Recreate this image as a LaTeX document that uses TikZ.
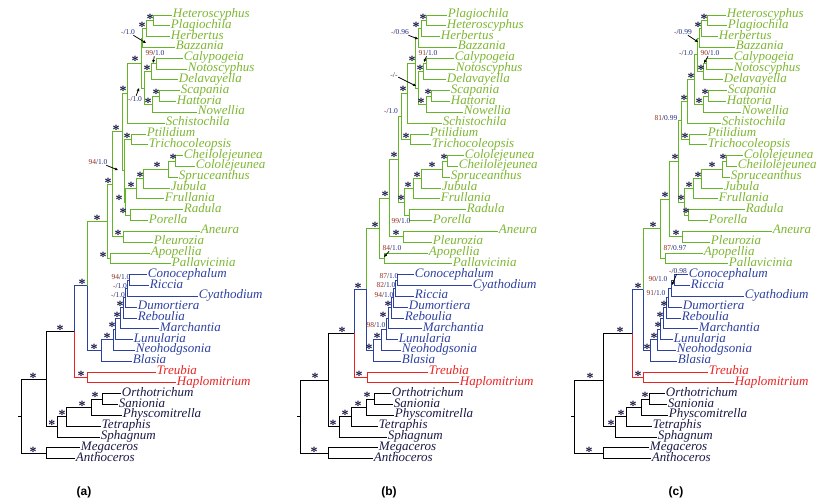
\documentclass[tikz,border=0pt]{standalone}
\usepackage{fontspec}
\setmainfont{Liberation Serif}
\setsansfont{Liberation Sans}
\usetikzlibrary{arrows.meta,calc,positioning}

\definecolor{leafy}{RGB}{100,182,40}
\definecolor{leafytext}{RGB}{125,182,50}
\definecolor{march}{RGB}{45,65,160}
\definecolor{haplo}{RGB}{235,35,35}
\definecolor{ink}{RGB}{25,25,70}
\definecolor{bsred}{RGB}{150,45,25}
\definecolor{ppblue}{RGB}{35,45,130}

\tikzset{taxon/.style={anchor=west,inner xsep=0.5pt,inner ysep=0pt,text height=.5em,text depth=0pt,font=\fontsize{13}{13}\selectfont\itshape}}
\tikzset{gtx/.style={taxon,text=leafytext}}
\tikzset{btx/.style={taxon,text=march}}
\tikzset{rtx/.style={taxon,text=haplo}}
\tikzset{ktx/.style={taxon,text=ink}}
\tikzset{ast/.style={anchor=base,inner sep=0pt,yshift=-2.8pt,text=ink,font=\fontsize{14}{14}\selectfont\bfseries}}
\tikzset{sup/.style={inner sep=0.3pt,text=ink,font=\fontsize{7.5}{7.5}\selectfont}}
\tikzset{pointer/.style={-{Triangle[length=3pt,width=2.6pt]},line width=0.75pt,black}}
\tikzset{panel/.style={font=\sffamily\bfseries\fontsize{12}{12}\selectfont}}

\newcommand{\sv}[2]{\textcolor{bsred}{#1}/\textcolor{ppblue}{#2}}
% clade: name, x, child, child, colour to child one, colour to child two
\newcommand{\clade}[6]{%
  \path ($(#3)!.5!(#4)$) coordinate (#1-m);
  \coordinate (#1) at (#2,0 |- #1-m);
  \draw[#5] (#1) |- (#3);
  \draw[#6] (#1) |- (#4);
}

\begin{document}
\begin{tikzpicture}[x=1pt,y=-1pt,line width=0.9pt]
\useasboundingbox (0,0) rectangle (820,503);

% ---------- (a) ----------
\foreach \n/\x/\r/\lab in {het/172/0/Heteroscyphus, plag/170/1/Plagiochila, herb/170/2/Herbertus,
  baz/175/3/Bazzania, caly/183/4/Calypogeia, noto/187/5/Notoscyphus, delav/178/6/Delavayella,
  scap/180/7/Scapania, hatt/176/8/Hattoria, now/197/9/Nowellia, schis/165/10/Schistochila,
  ptil/146/11/Ptilidium, trich/148/12/Trichocoleopsis, cheil/183/13/Cheilolejeunea,
  colo/195/14/Cololejeunea, spruc/178/15/Spruceanthus, jub/170/16/Jubula, frul/164/17/Frullania,
  rad/183/18/Radula, por/148/19/Porella, aneu/200/20/Aneura, pleu/153/21/Pleurozia,
  apop/150/22/Apopellia, pall/171/23/Pallavicinia}
  \node[gtx] (a-\n) at (\x,{15+10.82*\r}) {\lab};
\foreach \n/\x/\r/\lab in {con/147/24/Conocephalum, ric/149/25/Riccia, cya/198/26/Cyathodium,
  dum/137/27/Dumortiera, reb/137/28/Reboulia, mar/159/29/Marchantia, lun/133/30/Lunularia,
  neo/135/31/Neohodgsonia, bla/132/32/Blasia}
  \node[btx] (a-\n) at (\x,{15+10.82*\r}) {\lab};
\foreach \n/\x/\r/\lab in {treu/156/33/Treubia, hap/176/34/Haplomitrium}
  \node[rtx] (a-\n) at (\x,{15+10.82*\r}) {\lab};
\foreach \n/\x/\r/\lab in {orth/121/35/Orthotrichum, san/118/36/Sanionia, phys/122/37/Physcomitrella,
  tetr/101/38/Tetraphis, sphag/100/39/Sphagnum, mega/80/40/Megaceros, anth/75/41/Anthoceros}
  \node[ktx] (a-\n) at (\x,{15+10.82*\r}) {\lab};

\foreach \n/\x/\ca/\cb in {hp/153/het/plag, hph/146/hp/herb, hphb/142/hph/baz, cn/156/caly/noto,
  cnd/151/cn/delav, sh/159/scap/hatt, shn/152/sh/now, csn/144/cnd/shn, l1/141/hphb/csn,
  l2/127/l1/schis, pt/131/ptil/trich, cc/175/cheil/colo, ccs/168/cc/spruc, ccsj/143/ccs/jub,
  ccsjf/136/ccsj/frul, rp/130/rad/por, porl/125/ccsjf/rp, ptpo/124/pt/porl, jd/122/l2/ptpo,
  ap/123/aneu/pleu, jdm/112/jd/ap, pell/110/apop/pall, jgp/107/jdm/pell}
  {\clade{a-\n}{\x}{a-\ca}{a-\cb}{leafy}{leafy}}
\foreach \n/\x/\ca/\cb in {m8/129.5/con/ric, m7/127.5/m8/cya, m6/125.5/m7/dum, m5/123/m6/reb,
  m4/120/m5/mar, m3/115/m4/lun, m2/113/m3/neo, m1/101/m2/bla}
  {\clade{a-\n}{\x}{a-\ca}{a-\cb}{march}{march}}
\clade{a-hr}{87}{a-treu}{a-hap}{haplo}{haplo}
\foreach \n/\x/\ca/\cb in {os/102/orth/san, osp/91/os/phys, ospt/66/osp/tetr, moss/57/ospt/sphag,
  horn/46/mega/anth}
  {\clade{a-\n}{\x}{a-\ca}{a-\cb}{black}{black}}
\clade{a-jm}{87}{a-jgp}{a-m1}{leafy}{march}
\clade{a-liv}{74}{a-jm}{a-hr}{march}{haplo}
\clade{a-tr}{46}{a-liv}{a-moss}{black}{black}
\clade{a-root}{21}{a-tr}{a-horn}{black}{black}
\coordinate (a-stub) at (18,0 |- a-root);
\draw (a-stub) -- (a-root);

\foreach \n/\x in {hp/150, hph/142, cnd/147, sh/156, shn/148, l1/135, l2/123, jd/116, pt/127,
  cc/173, ccs/157, ccsj/140, ccsjf/131, porl/119, rp/123, ap/118, jdm/108, pell/103, jgp/97,
  jm/82, m1/94, m2/107, m3/112, m4/117, m5/120, hr/81, liv/60, os/95, osp/82, ospt/62,
  moss/52, tr/33, horn/33}
  \node[ast] (a-\n-s) at (\x,0 |- a-\n) {*};

\node[sup] (a-v1) at (128,32) {\sv{-}{1.0}};
\node[sup] (a-v2) at (155,53) {\sv{99}{1.0}};
\node[sup] (a-v3) at (135,99) {\sv{-}{1.0}};
\node[sup] (a-v4) at (98,162) {\sv{94}{1.0}};
\node[sup] (a-v5) at (121,277) {\sv{94}{1.0}};
\node[sup] (a-v6) at (120,286) {\sv{-}{1.0}};
\node[sup] (a-v7) at (118,295) {\sv{-}{1.0}};
\coordinate (a-v1t) at (146,43);
\coordinate (a-v2t) at (153,63);
\coordinate (a-v3t) at (139,88);
\coordinate (a-v4t) at (118,170);
\draw[pointer] (a-v1) -- (a-v1t);
\draw[pointer] (a-v2) -- (a-v2t);
\draw[pointer] (a-v3) -- (a-v3t);
\draw[pointer] (a-v4) -- (a-v4t);

\node[panel] (a-name) at (84,492) {(a)};

% ---------- (b) ----------
\foreach \n/\x/\r/\lab in {plag/447/0/Plagiochila, het/446/1/Heteroscyphus, herb/440/2/Herbertus,
  baz/457/3/Bazzania, caly/454/4/Calypogeia, noto/455/5/Notoscyphus, delav/446/6/Delavayella,
  scap/450/7/Scapania, hatt/450/8/Hattoria, now/463/9/Nowellia, schis/442/10/Schistochila,
  ptil/429/11/Ptilidium, trich/431/12/Trichocoleopsis, colo/464/13/Cololejeunea,
  cheil/458/14/Cheilolejeunea, spruc/450/15/Spruceanthus, jub/441/16/Jubula, frul/440/17/Frullania,
  rad/466/18/Radula, por/432/19/Porella, aneu/498/20/Aneura, pleu/432/21/Pleurozia,
  apop/428/22/Apopellia, pall/452/23/Pallavicinia}
  \node[gtx] (b-\n) at (\x,{15+10.82*\r}) {\lab};
\foreach \n/\x/\r/\lab in {con/414/24/Conocephalum, cya/472/25/Cyathodium, ric/414/26/Riccia,
  dum/408/27/Dumortiera, reb/404/28/Reboulia, mar/422/29/Marchantia, lun/398/30/Lunularia,
  neo/401/31/Neohodgsonia, bla/401/32/Blasia}
  \node[btx] (b-\n) at (\x,{15+10.82*\r}) {\lab};
\foreach \n/\x/\r/\lab in {treu/428/33/Treubia, hap/459/34/Haplomitrium}
  \node[rtx] (b-\n) at (\x,{15+10.82*\r}) {\lab};
\foreach \n/\x/\r/\lab in {orth/391/35/Orthotrichum, san/393/36/Sanionia, phys/394/37/Physcomitrella,
  tetr/378/38/Tetraphis, sphag/387/39/Sphagnum, mega/378/40/Megaceros, anth/373/41/Anthoceros}
  \node[ktx] (b-\n) at (\x,{15+10.82*\r}) {\lab};

\foreach \n/\x/\ca/\cb in {hp/426/plag/het, hph/421/hp/herb, hphb/418/hph/baz, cn/426/caly/noto,
  cnd/423/cn/delav, sh/431/scap/hatt, shn/426/sh/now, csn/418/cnd/shn, l1/415.5/hphb/csn,
  l2/407/l1/schis, pt/410/ptil/trich, x/401/l2/pt, cc/447/colo/cheil, ccs/442/cc/spruc,
  ccsj/421/ccs/jub, ccsjf/413/ccsj/frul, rp/409/rad/por, porl/404/ccsjf/rp, jd/398/x/porl,
  ap/403/aneu/pleu, jdm/389/jd/ap, pell/384/apop/pall, jgp/379/jdm/pell}
  {\clade{b-\n}{\x}{b-\ca}{b-\cb}{leafy}{leafy}}
\foreach \n/\x/\ca/\cb in {m8/397/con/cya, m7/395/m8/ric, m6/393/m7/dum, m5/391/m6/reb,
  m4/388/m5/mar, m3/386/m4/lun, m2/381/m3/neo, m1/373/m2/bla}
  {\clade{b-\n}{\x}{b-\ca}{b-\cb}{march}{march}}
\clade{b-hr}{367}{b-treu}{b-hap}{haplo}{haplo}
\foreach \n/\x/\ca/\cb in {os/374/orth/san, osp/366/os/phys, ospt/351/osp/tetr, moss/339/ospt/sphag,
  horn/328/mega/anth}
  {\clade{b-\n}{\x}{b-\ca}{b-\cb}{black}{black}}
\clade{b-jm}{366}{b-jgp}{b-m1}{leafy}{march}
\clade{b-liv}{354}{b-jm}{b-hr}{march}{haplo}
\clade{b-tr}{328}{b-liv}{b-moss}{black}{black}
\clade{b-root}{300}{b-tr}{b-horn}{black}{black}
\coordinate (b-stub) at (297,0 |- b-root);
\draw (b-stub) -- (b-root);

\foreach \n/\x in {hp/423, hph/416, cnd/420, sh/428, shn/421, l1/412, l2/403, pt/406, jd/394,
  cc/444, ccs/432, ccsj/417, ccsjf/408, porl/401, ap/396, jdm/385, jgp/375, jm/358, m1/369,
  m2/377, m4/383, m5/388, hr/359, liv/342, os/367, osp/358, ospt/345, moss/333, tr/315, horn/314}
  \node[ast] (b-\n-s) at (\x,0 |- b-\n) {*};

\node[sup] (b-v1) at (400,32) {\sv{-}{0.96}};
\node[sup] (b-v2) at (428,53) {\sv{91}{1.0}};
\node[sup] (b-v3) at (394,75) {\sv{-}{-}};
\node[sup] (b-v4) at (391,111) {\sv{-}{1.0}};
\node[sup] (b-v5) at (401,221) {\sv{99}{1.0}};
\node[sup] (b-v6) at (392,248) {\sv{84}{1.0}};
\node[sup] (b-v7) at (389,276) {\sv{87}{1.0}};
\node[sup] (b-v8) at (386,285) {\sv{82}{1.0}};
\node[sup] (b-v9) at (384,295) {\sv{94}{1.0}};
\node[sup] (b-v10) at (376,325) {\sv{98}{1.0}};
\coordinate (b-v1t) at (418,39);
\coordinate (b-v2t) at (424,62);
\coordinate (b-v3t) at (416,86);
\coordinate (b-v6t) at (384,257);
\draw[pointer] (b-v1) -- (b-v1t);
\draw[pointer] (b-v2) -- (b-v2t);
\draw[pointer] (b-v3) -- (b-v3t);
\draw[pointer] (b-v6) -- (b-v6t);

\node[panel] (b-name) at (389,492) {(b)};

% ---------- (c) ----------
\foreach \n/\x/\r/\lab in {het/726/0/Heteroscyphus, plag/727/1/Plagiochila, herb/718/2/Herbertus,
  baz/735/3/Bazzania, caly/733/4/Calypogeia, noto/733/5/Notoscyphus, delav/723/6/Delavayella,
  scap/727/7/Scapania, hatt/726/8/Hattoria, now/741/9/Nowellia, schis/721/10/Schistochila,
  ptil/707/11/Ptilidium, trich/707/12/Trichocoleopsis, colo/743/13/Cololejeunea,
  cheil/737/14/Cheilolejeunea, spruc/730/15/Spruceanthus, jub/723/16/Jubula, frul/718/17/Frullania,
  rad/745/18/Radula, por/708/19/Porella, aneu/772/20/Aneura, pleu/710/21/Pleurozia,
  apop/703/22/Apopellia, pall/728/23/Pallavicinia}
  \node[gtx] (c-\n) at (\x,{15+10.82*\r}) {\lab};
\foreach \n/\x/\r/\lab in {con/688/24/Conocephalum, ric/690/25/Riccia, cya/744/26/Cyathodium,
  dum/682/27/Dumortiera, reb/681/28/Reboulia, mar/698/29/Marchantia, lun/673/30/Lunularia,
  neo/676/31/Neohodgsonia, bla/677/32/Blasia}
  \node[btx] (c-\n) at (\x,{15+10.82*\r}) {\lab};
\foreach \n/\x/\r/\lab in {treu/708/33/Treubia, hap/734/34/Haplomitrium}
  \node[rtx] (c-\n) at (\x,{15+10.82*\r}) {\lab};
\foreach \n/\x/\r/\lab in {orth/665/35/Orthotrichum, san/667/36/Sanionia, phys/668/37/Physcomitrella,
  tetr/652/38/Tetraphis, sphag/657/39/Sphagnum, mega/649/40/Megaceros, anth/651/41/Anthoceros}
  \node[ktx] (c-\n) at (\x,{15+10.82*\r}) {\lab};

\foreach \n/\x/\ca/\cb in {hp/707/het/plag, hph/701/hp/herb, hphb/699/hph/baz, cn/706/caly/noto,
  cnd/703/cn/delav, sh/708/scap/hatt, shn/703/sh/now, aa/697/hphb/cnd, l1/694/aa/shn,
  l2/687/l1/schis, pt/689/ptil/trich, x/681/l2/pt, cc/726/colo/cheil, ccs/722/cc/spruc,
  ccsj/701/ccs/jub, ccsjf/693/ccsj/frul, rp/688/rad/por, porl/684/ccsjf/rp, jd/678/x/porl,
  ap/682/aneu/pleu, jdm/669/jd/ap, pell/665/apop/pall, jgp/660/jdm/pell}
  {\clade{c-\n}{\x}{c-\ca}{c-\cb}{leafy}{leafy}}
\foreach \n/\x/\ca/\cb in {m8/674/con/ric, m7/671/m8/cya, m6/668/m7/dum, m5/666/m6/reb,
  m4/663/m5/mar, m3/660/m4/lun, m2/657/m3/neo, m1/650/m2/bla}
  {\clade{c-\n}{\x}{c-\ca}{c-\cb}{march}{march}}
\clade{c-hr}{643}{c-treu}{c-hap}{haplo}{haplo}
\foreach \n/\x/\ca/\cb in {os/649/orth/san, osp/641/os/phys, ospt/626/osp/tetr, moss/615/ospt/sphag,
  horn/603/mega/anth}
  {\clade{c-\n}{\x}{c-\ca}{c-\cb}{black}{black}}
\clade{c-jm}{643}{c-jgp}{c-m1}{leafy}{march}
\clade{c-liv}{632}{c-jm}{c-hr}{march}{haplo}
\clade{c-tr}{603}{c-liv}{c-moss}{black}{black}
\clade{c-root}{574}{c-tr}{c-horn}{black}{black}
\coordinate (c-stub) at (571,0 |- c-root);
\draw (c-stub) -- (c-root);

\foreach \n/\x in {hp/704, hph/698, cnd/701, sh/705, shn/699, l1/691, l2/684, pt/685, jd/675,
  cc/723, ccs/712, ccsj/698, ccsjf/689, porl/681, rp/686, ap/676, jdm/665, jgp/653, jm/638,
  m1/647, m2/654, m3/658, m4/660, m5/664, hr/638, liv/620, os/645, osp/633, ospt/621,
  moss/611, tr/590, horn/589}
  \node[ast] (c-\n-s) at (\x,0 |- c-\n) {*};

\node[sup] (c-v1) at (683,32) {\sv{-}{0.99}};
\node[sup] (c-v2) at (686,53) {\sv{-}{1.0}};
\node[sup] (c-v3) at (710,53) {\sv{90}{1.0}};
\node[sup] (c-v4) at (666,118) {\sv{81}{0.99}};
\node[sup] (c-v5) at (675,248) {\sv{87}{0.97}};
\node[sup] (c-v6) at (678,271) {\sv{-}{0.98}};
\node[sup] (c-v7) at (658,279) {\sv{90}{1.0}};
\node[sup] (c-v8) at (656,293) {\sv{91}{1.0}};
\coordinate (c-v1t) at (698,42);
\coordinate (c-v3t) at (704,63);
\coordinate (c-v6t) at (672,285);
\draw[pointer] (c-v1) -- (c-v1t);
\draw[pointer] (c-v3) -- (c-v3t);
\draw[pointer] (c-v6) -- (c-v6t);

\node[panel] (c-name) at (676,492) {(c)};
\end{tikzpicture}
\end{document}
